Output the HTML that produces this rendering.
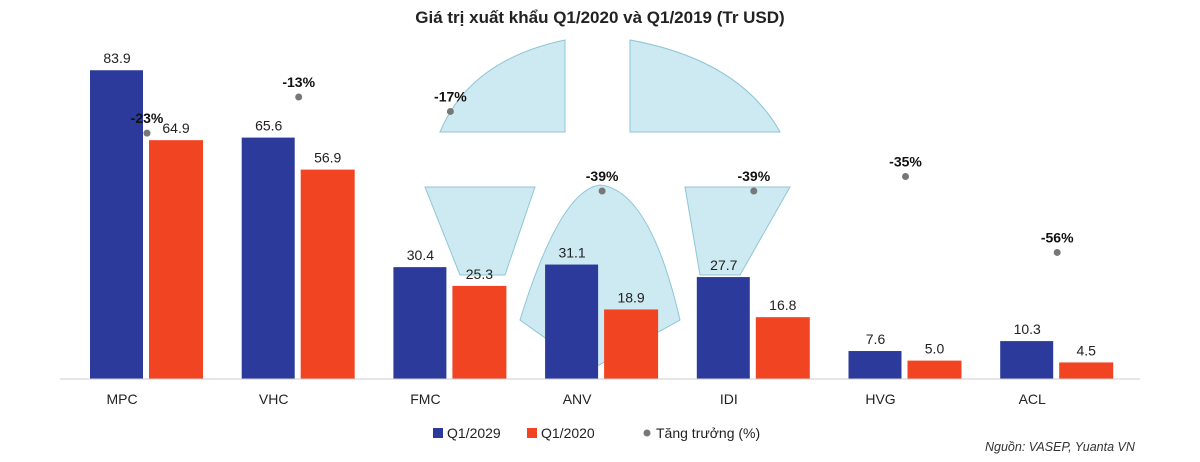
<!DOCTYPE html>
<html><head><meta charset="utf-8"><style>
body{margin:0;background:#fff;width:1200px;height:457px;overflow:hidden;font-family:"Liberation Sans","Noto Sans CJK SC",sans-serif}
</style></head><body>
<svg id="chart" width="1200" height="457" xmlns="http://www.w3.org/2000/svg">
<g fill="#cde9f1" stroke="#8fc6d6" stroke-width="1">
<path d="M440,132 Q470,60 565,40 L565,132 Z"/>
<path d="M630,40 Q740,60 780,132 L630,132 Z"/>
<path d="M425,187 L535,187 L505,275 L460,275 Z"/>
<path d="M685,187 L790,187 L740,275 L700,275 Z"/>
<path d="M600,185 Q650,190 680,320 L590,370 L520,320 Q560,190 600,185 Z"/>
</g>
<text x="600" y="23" text-anchor="middle" font-size="17" font-weight="bold" fill="#222">Giá trị xuất khẩu Q1/2020 và Q1/2019 (Tr USD)</text>
<g id="bars"></g>
<line x1="60" y1="379" x2="1140" y2="379" stroke="#ccc"/>
<g font-size="14" fill="#222">
<rect x="433" y="428" width="10" height="10" fill="#2b3a9b"/>
<text x="447" y="438">Q1/2029</text>
<rect x="527" y="428" width="10" height="10" fill="#f04423"/>
<text x="541" y="438">Q1/2020</text>
<circle cx="647" cy="433" r="3.5" fill="#777"/>
<text x="656" y="438">Tăng trưởng (%)</text>
</g>
<text x="985" y="451" font-size="12.5" font-style="italic" fill="#333">Nguồn: VASEP,  Yuanta VN</text>
</svg>
<script>
const categories=["MPC","VHC","FMC","ANV","IDI","HVG","ACL"];
const q2019=[83.9,65.6,30.4,31.1,27.7,7.6,10.3];
const q2020=[64.9,56.9,25.3,18.9,16.8,5.0,4.5];
const growth=[-23,-13,-17,-39,-39,-35,-56];
const NS="http://www.w3.org/2000/svg";
const g=document.getElementById("bars");
const yV=v=>379-v*3.68;
const yG=v=>50-v*3.615;
const xC=i=>122+i*151.7;
function el(t,a){const e=document.createElementNS(NS,t);for(const k in a)e.setAttribute(k,a[k]);g.appendChild(e);return e;}
categories.forEach((c,i)=>{
  const cx=xC(i);
  const b=el("rect",{x:cx-32,y:yV(q2019[i]),width:53,height:379-yV(q2019[i]),fill:"#2b3a9b"});
  
  
  const r=el("rect",{x:cx+27,y:yV(q2020[i]),width:54,height:379-yV(q2020[i]),fill:"#f04423"});
  
  
  const t1=el("text",{x:cx-5,y:yV(q2019[i])-7,"text-anchor":"middle","font-size":"14",fill:"#222"});
  t1.textContent=q2019[i].toFixed(1);
  
  
  const t2=el("text",{x:cx+54,y:yV(q2020[i])-7,"text-anchor":"middle","font-size":"14",fill:"#222"});
  t2.textContent=q2020[i].toFixed(1);
  
  
  const d=el("circle",{cx:cx+25,cy:yG(growth[i]),r:3.5,fill:"#777"});
  
  
  const t3=el("text",{x:cx+25,y:yG(growth[i])-10,"text-anchor":"middle","font-size":"14","font-weight":"bold",fill:"#111"});
  t3.textContent=growth[i]+"%";
  
  
  const t4=el("text",{x:cx,y:404,"text-anchor":"middle","font-size":"14",fill:"#222"});
  t4.textContent=c;
  
  
});
</script>
</body></html>
